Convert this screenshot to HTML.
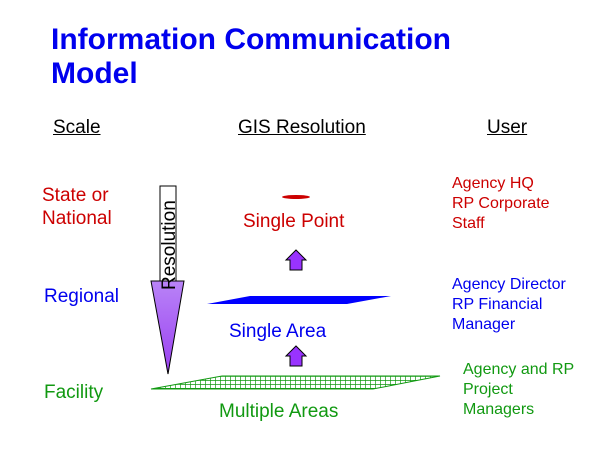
<!DOCTYPE html>
<html><head><style>
body{margin:0;background:#fff;width:600px;height:450px;overflow:hidden;font-family:"Liberation Sans",sans-serif}
.t{position:absolute;white-space:nowrap}
</style></head><body>
<svg width="600" height="450" style="position:absolute;left:0;top:0">
<defs>
<linearGradient id="g" x1="0" y1="0" x2="0" y2="1"><stop offset="0" stop-color="#d8c8ff"/><stop offset="1" stop-color="#9a40f0"/></linearGradient>
<pattern id="p" width="5" height="4" patternUnits="userSpaceOnUse"><rect width="5" height="4" fill="#fff"/><path d="M0 0H5M0 0V4" stroke="#119911" stroke-width="1.4"/></pattern>
</defs>
<path d="M160 186H176V281H184L168 374L151 281H160Z" fill="url(#g)" stroke="#000" stroke-width="1"/>
<rect x="160" y="186" width="16" height="95" fill="#fff" stroke="#000"/>
<ellipse cx="296" cy="197" rx="14" ry="2" fill="#cc0000"/>
<polygon points="207,304 250,296 391,296 347,304" fill="#0000ff"/>
<polygon points="151,389 222,376 440,376 373,389" fill="url(#p)" stroke="#119911"/>
<path d="M290 270V260H286L296 250L306 260H302V270Z" fill="#9933ff" stroke="#000"/>
<path d="M290 366V356H286L296 346L306 356H302V366Z" fill="#9933ff" stroke="#000"/>
<text x="0" y="0" transform="translate(175,290) rotate(-90)" font-family="Liberation Sans" font-size="19" fill="#000">Resolution</text>
</svg>
<div class="t" style="left:51px;top:23px;font-size:30px;font-weight:bold;color:#0000ee;line-height:34px">Information Communication<br>Model</div>
<div class="t" style="left:53px;top:117px;font-size:19px;text-decoration:underline">Scale</div>
<div class="t" style="left:238px;top:117px;font-size:19px;text-decoration:underline">GIS Resolution</div>
<div class="t" style="left:487px;top:117px;font-size:19px;text-decoration:underline">User</div>
<div class="t" style="left:42px;top:184px;font-size:19px;color:#cc0000;line-height:23px">State or<br>National</div>
<div class="t" style="left:44px;top:286px;font-size:19px;color:#0000ee">Regional</div>
<div class="t" style="left:44px;top:382px;font-size:19px;color:#119911">Facility</div>
<div class="t" style="left:243px;top:211px;font-size:19px;color:#cc0000">Single Point</div>
<div class="t" style="left:229px;top:321px;font-size:19px;color:#0000ee">Single Area</div>
<div class="t" style="left:219px;top:401px;font-size:19px;color:#119911">Multiple Areas</div>
<div class="t" style="left:452px;top:174px;font-size:16px;color:#cc0000;line-height:20px">Agency HQ<br>RP Corporate<br>Staff</div>
<div class="t" style="left:452px;top:275px;font-size:16px;color:#0000ee;line-height:20px">Agency Director<br>RP Financial<br>Manager</div>
<div class="t" style="left:463px;top:360px;font-size:16px;color:#119911;line-height:20px">Agency and RP<br>Project<br>Managers</div>
</body></html>
